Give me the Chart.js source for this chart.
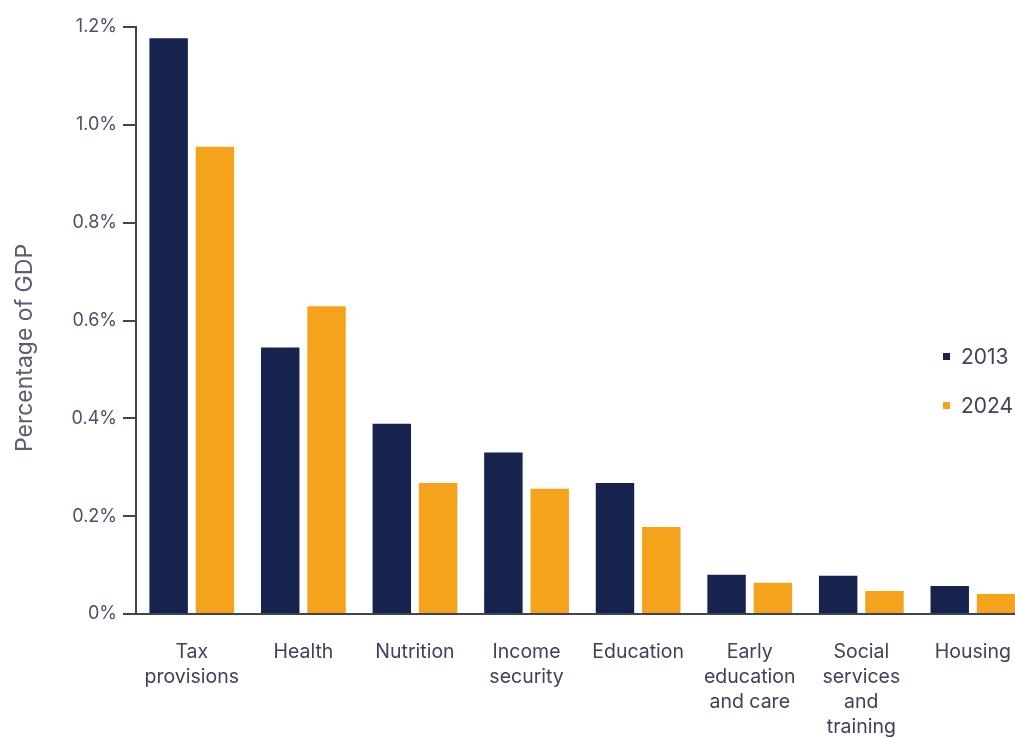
<!DOCTYPE html>
<html>
<head>
<meta charset="utf-8">
<script src="https://cdn.jsdelivr.net/npm/chart.js@4/dist/chart.umd.min.js"></script>
<style>
  html, body { margin: 0; padding: 0; background: #fff; overflow: hidden; width: 1015px; height: 738px; }
  #wrap { position: absolute; left: 0; top: 0; width: 1037px; height: 766px; }
  #legend { position: absolute; left: 943px; top: 341px; font-family: "Inter", "Liberation Sans", sans-serif; font-size: 21px; color: #3d4358; }
  #legend .item { display: flex; align-items: center; height: 30px; margin-bottom: 19px; }
  #legend .sw { width: 7px; height: 7px; margin-right: 11px; }
</style>
</head>
<body>
<div id="wrap"><canvas id="c"></canvas></div>
<div id="legend"></div>
<script>
const categories = [
  ["Tax", "provisions"],
  ["Health"],
  ["Nutrition"],
  ["Income", "security"],
  ["Education"],
  ["Early", "education", "and care"],
  ["Social", "services", "and", "training"],
  ["Housing"]
];
const seriesNames = ["2013", "2024"];
const values2013 = [1.177, 0.545, 0.389, 0.330, 0.268, 0.080, 0.078, 0.057];
const values2024 = [0.955, 0.629, 0.268, 0.256, 0.178, 0.064, 0.047, 0.041];
const yTicks = [0, 0.2, 0.4, 0.6, 0.8, 1.0, 1.2];
const yTitle = "Percentage of GDP";
const colors = ["#16234f", "#f5a21d"];

const textColor = "#4a5068";
const fontFam = "Inter, 'Liberation Sans', sans-serif";

const yTitlePlugin = {
  id: "yTitle",
  afterDraw(chart) {
    const ctx = chart.ctx;
    ctx.save();
    ctx.translate(25, 348);
    ctx.rotate(-Math.PI / 2);
    ctx.font = "23px " + fontFam;
    ctx.fillStyle = "#5a5f70";
    ctx.textAlign = "center";
    ctx.textBaseline = "middle";
    ctx.fillText(yTitle, 0, 0);
    ctx.restore();
  }
};

new Chart(document.getElementById("c"), {
  type: "bar",
  data: {
    labels: categories,
    datasets: [
      { label: seriesNames[0], data: values2013, backgroundColor: colors[0] },
      { label: seriesNames[1], data: values2024, backgroundColor: colors[1] }
    ]
  },
  plugins: [yTitlePlugin],
  options: {
    responsive: true,
    maintainAspectRatio: false,
    animation: false,
    layout: { padding: { top: 27, left: 0, right: 0, bottom: 0 } },
    datasets: { bar: { categoryPercentage: 0.83, barPercentage: 0.83 } },
    plugins: { legend: { display: false }, tooltip: { enabled: false } },
    scales: {
      x: {
        grid: { display: false, drawTicks: false },
        border: { display: true, color: "#3d4358", width: 2 },
        ticks: {
          color: "#3d4358",
          padding: 26,
          maxRotation: 0,
          autoSkip: false,
          font: { family: fontFam, size: 19.5, lineHeight: 1.282 }
        }
      },
      y: {
        min: 0,
        max: 1.2,
        afterBuildTicks: (s) => { s.ticks = yTicks.map(v => ({ value: v })); },
        afterFit: (s) => { s.width = 136; },
        grid: { drawOnChartArea: false, drawTicks: true, tickLength: 13, color: "#3d4358", lineWidth: 2 },
        border: { display: true, color: "#3d4358", width: 2 },
        ticks: {
          color: textColor,
          padding: 6,
          font: { family: fontFam, size: 18 },
          callback: (v) => v === 0 ? "0%" : Number(v).toFixed(1) + "%"
        },
        title: { display: false }
      }
    }
  }
});

const lg = document.getElementById("legend");
seriesNames.forEach((n, i) => {
  const d = document.createElement("div");
  d.className = "item";
  d.innerHTML = '<span class="sw" style="background:' + colors[i] + '"></span><span>' + n + '</span>';
  lg.appendChild(d);
});
</script>
</body>
</html>
